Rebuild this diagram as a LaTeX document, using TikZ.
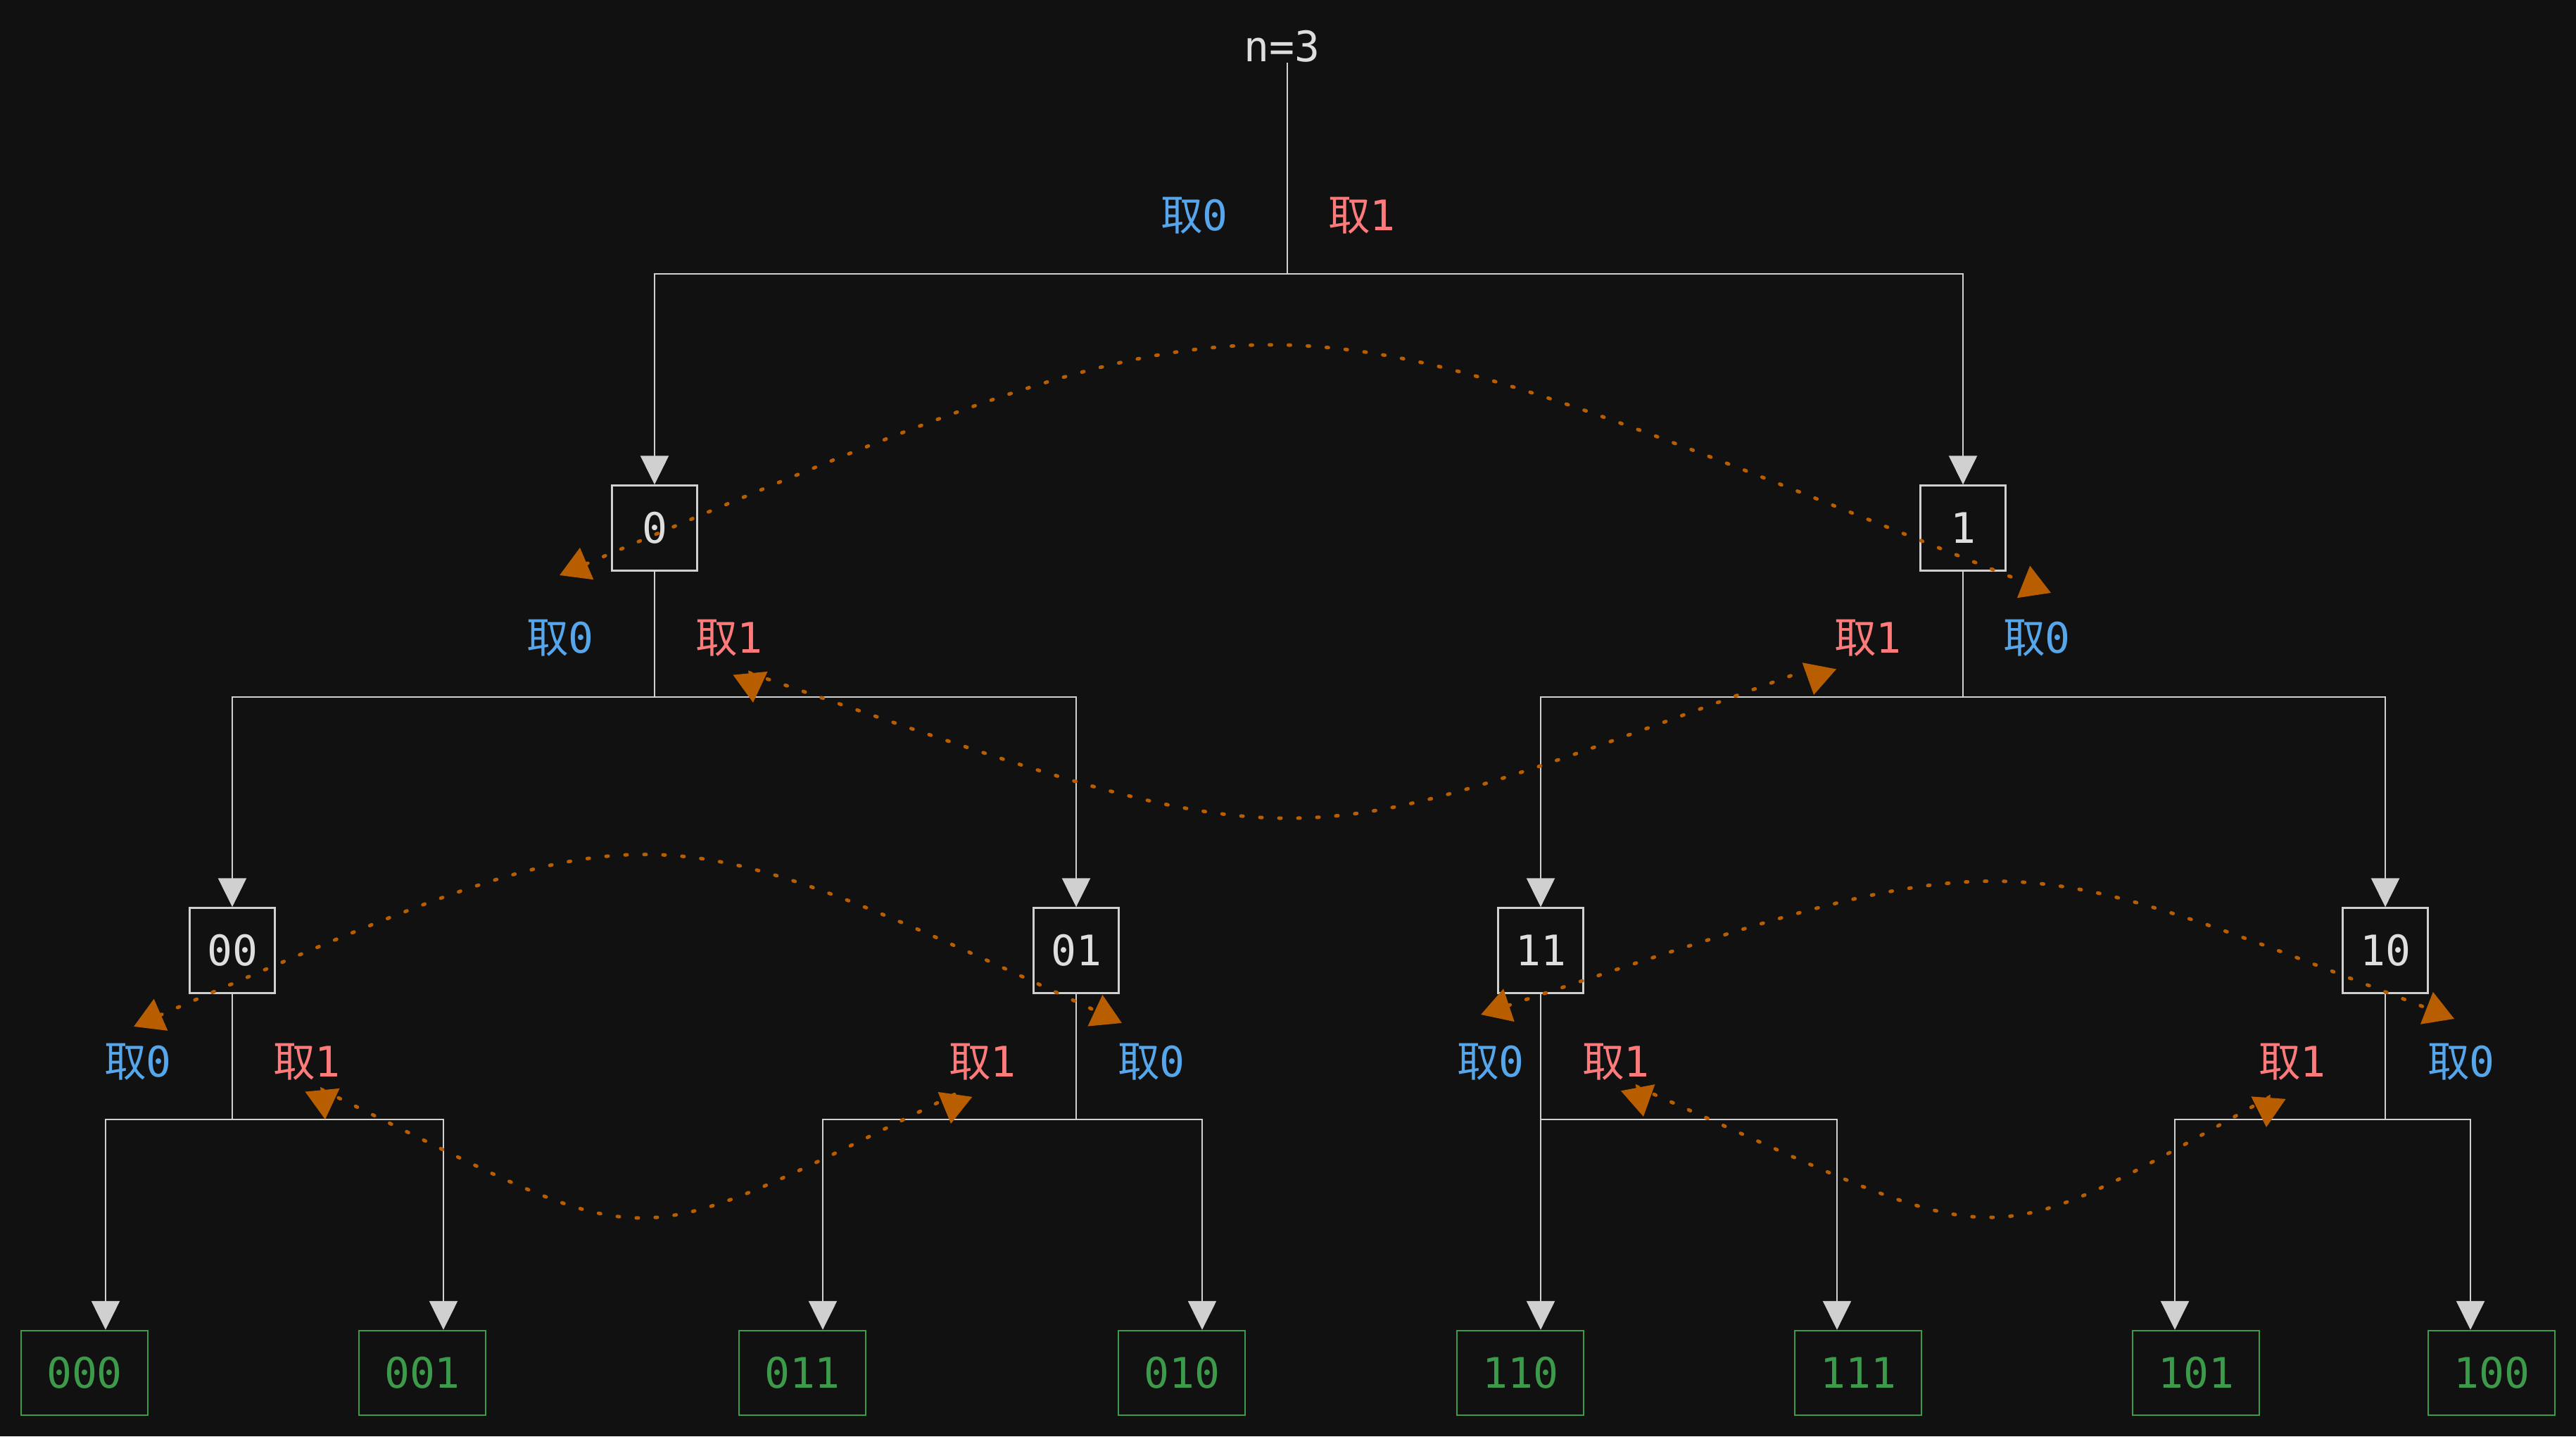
\documentclass[tikz,border=0pt]{standalone}
\usepackage{fontspec}
\setmainfont{DejaVu Sans Mono}
\newfontfamily\cjk{Noto Sans CJK SC}
\usepackage{tikz}
\usetikzlibrary{positioning}
\usetikzlibrary{arrows.meta}
\usetikzlibrary{calc}
\definecolor{bgdark}{HTML}{111111}
\definecolor{linegray}{HTML}{D0D0D0}
\definecolor{textgray}{HTML}{DEDEDE}
\definecolor{takeblue}{HTML}{56A6EC}
\definecolor{takered}{HTML}{FF7B7B}
\definecolor{leafgreen}{HTML}{3C9A4B}
\definecolor{swaporange}{HTML}{B85E00}
\newcommand{\takezero}{{\cjk 取}0}
\newcommand{\takeone}{{\cjk 取}1}
\tikzset{
  link/.style={draw=linegray, line width=0.25mm},
  arrow/.style={link, -{Triangle[length=4.1mm,width=4mm,fill=linegray]}},
  swap/.style={draw=swaporange, line width=0.5mm, line cap=round,
               dash pattern=on 0.3mm off 2.4mm,
               {Triangle[length=4.2mm,width=4.8mm,fill=swaporange]}-{Triangle[length=4.2mm,width=4.8mm,fill=swaporange]}}
}

\begin{document}
\begin{tikzpicture}[font=\fontsize{17}{20}\selectfont]
	\useasboundingbox (0,0) rectangle (36.6,-20.4);
	\fill[bgdark] (0,0) rectangle (36.6,-20.4);

	\node[text=textgray, inner sep=0] (root) at (18.21,-0.66) {n=3};

	\begin{scope}[every node/.style={draw=linegray, line width=0.25mm, text=textgray,
	              minimum width=1.21cm, minimum height=1.21cm, inner sep=0}]
	    \node (b0) at (9.30,-7.50) {0};
	    \node (b1) at (27.89,-7.50) {1};
	    \node (b00) at (3.30,-13.50) {00};
	    \node (b01) at (15.29,-13.50) {01};
	    \node (b11) at (21.89,-13.50) {11};
	    \node (b10) at (33.89,-13.50) {10};
	\end{scope}

	\begin{scope}[every node/.style={draw=leafgreen, line width=0.25mm, text=leafgreen,
	              minimum width=1.80cm, minimum height=1.20cm, inner sep=0}]
	    \node (l000) at (1.20,-19.50) {000};
	    \node (l001) at (6.00,-19.50) {001};
	    \node (l011) at (11.40,-19.50) {011};
	    \node (l010) at (16.79,-19.50) {010};
	    \node (l110) at (21.60,-19.50) {110};
	    \node (l111) at (26.40,-19.50) {111};
	    \node (l101) at (31.20,-19.50) {101};
	    \node (l100) at (35.40,-19.50) {100};
	\end{scope}

	% junctions and leaf arrow ends
	\coordinate (j) at (18.29,-3.89);
	\coordinate (j0) at (9.30,-9.90);
	\coordinate (j1) at (27.89,-9.90);
	\coordinate (j00) at (3.30,-15.90);
	\coordinate (j01) at (15.29,-15.90);
	\coordinate (j11) at (21.89,-15.90);
	\coordinate (j10) at (33.89,-15.90);
	\coordinate (t000) at (1.50,-15.90);
	\coordinate (t001) at (6.30,-15.90);
	\coordinate (t011) at (11.69,-15.90);
	\coordinate (t010) at (17.08,-15.90);
	\coordinate (t110) at (21.89,-15.90);
	\coordinate (t111) at (26.10,-15.90);
	\coordinate (t101) at (30.90,-15.90);
	\coordinate (t100) at (35.10,-15.90);

	\draw[link] (root.south -| j) -- (j);
	\draw[arrow] (j) -| (b0);
	\draw[arrow] (j) -| (b1);
	\draw[link] (b0) -- (j0);
	\draw[arrow] (j0) -| (b00);
	\draw[arrow] (j0) -| (b01);
	\draw[link] (b1) -- (j1);
	\draw[arrow] (j1) -| (b11);
	\draw[arrow] (j1) -| (b10);
	\draw[link] (b00) -- (j00);
	\draw[arrow] (j00) -- (t000) -- (t000 |- l000.north);
	\draw[arrow] (j00) -- (t001) -- (t001 |- l001.north);
	\draw[link] (b01) -- (j01);
	\draw[arrow] (j01) -- (t011) -- (t011 |- l011.north);
	\draw[arrow] (j01) -- (t010) -- (t010 |- l010.north);
	\draw[link] (b11) -- (j11);
	\draw[arrow] (j11) -- (t110) -- (t110 |- l110.north);
	\draw[arrow] (j11) -- (t111) -- (t111 |- l111.north);
	\draw[link] (b10) -- (j10);
	\draw[arrow] (j10) -- (t101) -- (t101 |- l101.north);
	\draw[arrow] (j10) -- (t100) -- (t100 |- l100.north);

	\begin{scope}[every node/.style={inner sep=0}]
	    \node[text=takeblue] (k0a) at (16.97,-3.06) {\takezero};
	    \node[text=takered] (k0b) at (19.35,-3.06) {\takeone};
	    \node[text=takeblue] (k1a) at (7.96,-9.06) {\takezero};
	    \node[text=takered] (k1b) at (10.36,-9.06) {\takeone};
	    \node[text=takered] (k1c) at (26.54,-9.06) {\takeone};
	    \node[text=takeblue] (k1d) at (28.94,-9.06) {\takezero};
	    \node[text=takeblue] (k2a) at (1.96,-15.08) {\takezero};
	    \node[text=takered] (k2b) at (4.36,-15.08) {\takeone};
	    \node[text=takered] (k2c) at (13.96,-15.08) {\takeone};
	    \node[text=takeblue] (k2d) at (16.36,-15.08) {\takezero};
	    \node[text=takeblue] (k2e) at (21.18,-15.08) {\takezero};
	    \node[text=takered] (k2f) at (22.96,-15.08) {\takeone};
	    \node[text=takered] (k2g) at (32.57,-15.08) {\takeone};
	    \node[text=takeblue] (k2h) at (34.97,-15.08) {\takezero};
	\end{scope}

	% swap curves
	\coordinate (s0l) at (7.95,-8.17);
	\coordinate (s0r) at (29.14,-8.42);
	\coordinate (s1l) at (10.70,-9.98);
	\coordinate (s1lb) at (10.66,-9.56);
	\coordinate (s1r) at (25.77,-9.87);
	\coordinate (s1rb) at (25.85,-9.45);
	\coordinate (s2l) at (1.90,-14.58);
	\coordinate (s2r) at (15.94,-14.53);
	\coordinate (s3l) at (4.62,-15.90);
	\coordinate (s3lb) at (4.58,-15.48);
	\coordinate (s3r) at (13.51,-15.96);
	\coordinate (s3rb) at (13.57,-15.54);
	\coordinate (s4l) at (21.04,-14.41);
	\coordinate (s4r) at (34.87,-14.47);
	\coordinate (s5l) at (23.35,-15.86);
	\coordinate (s5lb) at (23.27,-15.44);
	\coordinate (s5r) at (32.20,-16.01);
	\coordinate (s5rb) at (32.23,-15.59);

	\draw[swap] (s0l) .. controls (18.40,-3.72) and (17.90,-3.92) .. (s0r);
	\draw[swap] (s1l) -- (s1lb) .. controls (18.83,-12.38) and (18.08,-12.27) .. (s1rb) -- (s1r);
	\draw[swap] (s2l) .. controls (9.20,-11.41) and (9.15,-11.36) .. (s2r);
	\draw[swap] (s3l) -- (s3lb) .. controls (9.44,-17.86) and (8.70,-17.93) .. (s3rb) -- (s3r);
	\draw[swap] (s4l) .. controls (28.60,-11.89) and (28.40,-11.95) .. (s4r);
	\draw[swap] (s5l) -- (s5lb) .. controls (28.60,-17.81) and (28.00,-17.95) .. (s5rb) -- (s5r);
\end{tikzpicture}
\end{document}
